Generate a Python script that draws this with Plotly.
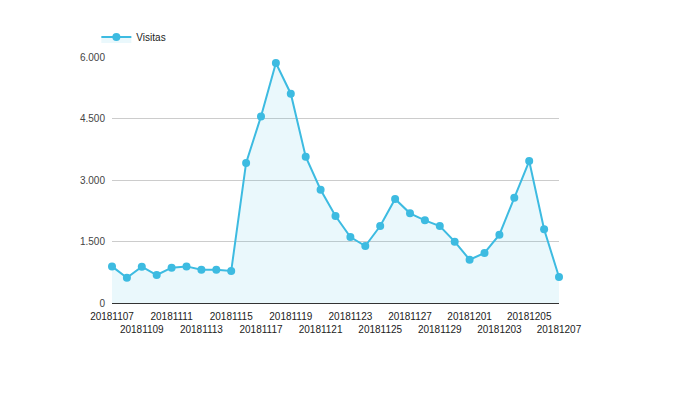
import plotly.graph_objects as go

dates = ["20181107", "20181108", "20181109", "20181110", "20181111", "20181112",
         "20181113", "20181114", "20181115", "20181116", "20181117", "20181118",
         "20181119", "20181120", "20181121", "20181122", "20181123", "20181124",
         "20181125", "20181126", "20181127", "20181128", "20181129", "20181130",
         "20181201", "20181202", "20181203", "20181204", "20181205", "20181206",
         "20181207"]
visitas = [893, 617, 885, 683, 861, 893, 812, 812, 780, 3415, 4551, 5854,
           5105, 3568, 2763, 2122, 1610, 1390, 1878, 2537, 2187, 2016, 1878,
           1496, 1057, 1220, 1667, 2569, 3463, 1797, 634]
y_ticks = [0, 1500, 3000, 4500, 6000]
y_tick_labels = ["0", "1.500", "3.000", "4.500", "6.000"]

x_idx = list(range(len(dates)))
tick_idx = x_idx[::2]
x_labels = [dates[i] if k % 2 == 0 else "<br>" + dates[i]
            for k, i in enumerate(tick_idx)]

line_color = "#3dbbe1"

fig = go.Figure()
fig.add_trace(go.Scatter(
    x=x_idx, y=visitas, name="Visitas", mode="lines+markers",
    line=dict(color=line_color, width=2),
    marker=dict(color=line_color, size=8),
    fill="tozeroy", fillcolor="rgba(61,187,225,0.11)",
    cliponaxis=False,
))

fig.update_layout(
    width=676, height=393,
    margin=dict(l=104, r=125, t=49, b=98),
    paper_bgcolor="white", plot_bgcolor="white",
    font=dict(family="Liberation Sans, Arial, sans-serif", size=11, color="#333"),
    showlegend=True,
    legend=dict(x=-0.035, y=1.081, xanchor="left", yanchor="middle",
                orientation="h", font=dict(size=10, color="#222"),
                bgcolor="rgba(0,0,0,0)"),
    xaxis=dict(range=[0, len(dates) - 1], tickmode="array", tickvals=tick_idx,
               ticktext=x_labels, showgrid=False, zeroline=False,
               showline=True, linecolor="#333", linewidth=1, ticks="",
               tickangle=0, ticklabelstandoff=4,
               tickfont=dict(size=10, color="#222")),
    yaxis=dict(range=[0, 6000], tickmode="array", tickvals=y_ticks,
               ticktext=y_tick_labels, showgrid=True, gridcolor="#cccccc",
               zeroline=False, showline=False, ticks="", ticklabelstandoff=6,
               tickfont=dict(size=10, color="#444")),
)

fig.write_html("out.html")
